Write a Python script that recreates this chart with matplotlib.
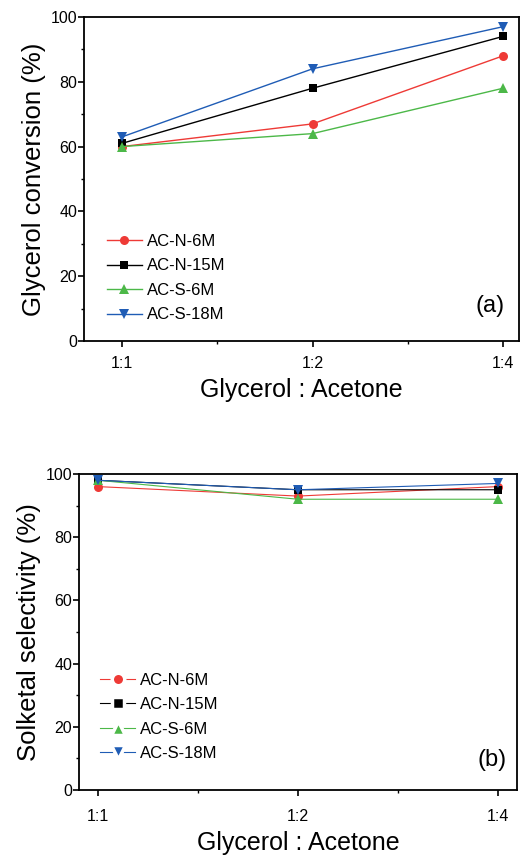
import matplotlib
matplotlib.use("Agg")
import matplotlib.pyplot as plt
from matplotlib.ticker import MultipleLocator, FixedLocator

plt.rcParams["font.family"] = ["Liberation Sans", "DejaVu Sans"]

ratios = ["1:1", "1:2", "1:4"]
labels = ["AC-N-6M", "AC-N-15M", "AC-S-6M", "AC-S-18M"]
colors = ["#ee3a36", "#000000", "#4cb848", "#1f5cb5"]
markers = ["o", "s", "^", "v"]
msizes = [6.5, 5.8, 7.5, 7.5]

# panel (a): glycerol conversion (%)
conv_n6 = [60, 67, 88]
conv_n15 = [61, 78, 94]
conv_s6 = [60, 64, 78]
conv_s18 = [63, 84, 97]

# panel (b): solketal selectivity (%)
sel_n6 = [96, 93, 96]
sel_n15 = [98, 95, 95]
sel_s6 = [98, 92, 92]
sel_s18 = [98, 95, 97]

fig = plt.figure(figsize=(5.2, 8.58), dpi=100)
ax_a = fig.add_axes([0.1615, 0.6026, 0.8365, 0.3776])
ax_b = fig.add_axes([0.152, 0.0793, 0.842, 0.3683])


def draw(ax, series, ylabel, tag, xlim, lw, leg_anchor, tag_xy, xpad,
         gap=False):
    x = [1, 2, 3]
    for ys, lab, c, m, ms in zip(series, labels, colors, markers, msizes):
        ax.plot(x, ys, color=c, marker=m, markersize=ms, linewidth=lw,
                label=lab, markeredgewidth=0)
    ax.set_xlim(*xlim)
    ax.set_ylim(0, 100)
    ax.xaxis.set_major_locator(FixedLocator(x))
    ax.set_xticklabels(ratios)
    ax.xaxis.set_minor_locator(FixedLocator([1.5, 2.5]))
    ax.yaxis.set_major_locator(MultipleLocator(20))
    ax.yaxis.set_minor_locator(MultipleLocator(10))
    ax.tick_params(which="major", direction="out", length=4, width=1.2,
                   labelsize=11.5)
    ax.tick_params(which="minor", direction="out", length=2.5, width=1.0)
    ax.tick_params(axis="y", pad=1)
    ax.tick_params(axis="x", pad=xpad)
    for s in ax.spines.values():
        s.set_linewidth(1.3)
    ax.set_xlabel("Glycerol : Acetone", fontsize=18, labelpad=5)
    ax.set_ylabel(ylabel, fontsize=18.5, labelpad=3)
    leg = ax.legend(loc="center left", bbox_to_anchor=leg_anchor,
                    borderaxespad=0, frameon=False, fontsize=12,
                    handlelength=2.1, labelspacing=0.57, handletextpad=0.3)
    if gap:
        # white ring round each legend marker leaves a gap in the line
        for h, ms in zip(leg.get_lines(), msizes):
            h.set_markeredgecolor("white")
            h.set_markeredgewidth(2.5)
            h.set_markersize(ms + 2.5)
    ax.text(tag_xy[0], tag_xy[1], tag, transform=ax.transAxes, fontsize=17,
            ha="right", va="bottom")


draw(ax_a, [conv_n6, conv_n15, conv_s6, conv_s18],
     "Glycerol conversion (%)", "(a)", (0.8, 3.084), 1.0,
     (0.037, 0.194), (0.968, 0.075), 7)
draw(ax_b, [sel_n6, sel_n15, sel_s6, sel_s18],
     "Solketal selectivity (%)", "(b)", (0.905, 3.095), 0.8,
     (0.033, 0.231), (0.977, 0.06), 10, gap=True)

fig.savefig("out.png", dpi=100)
